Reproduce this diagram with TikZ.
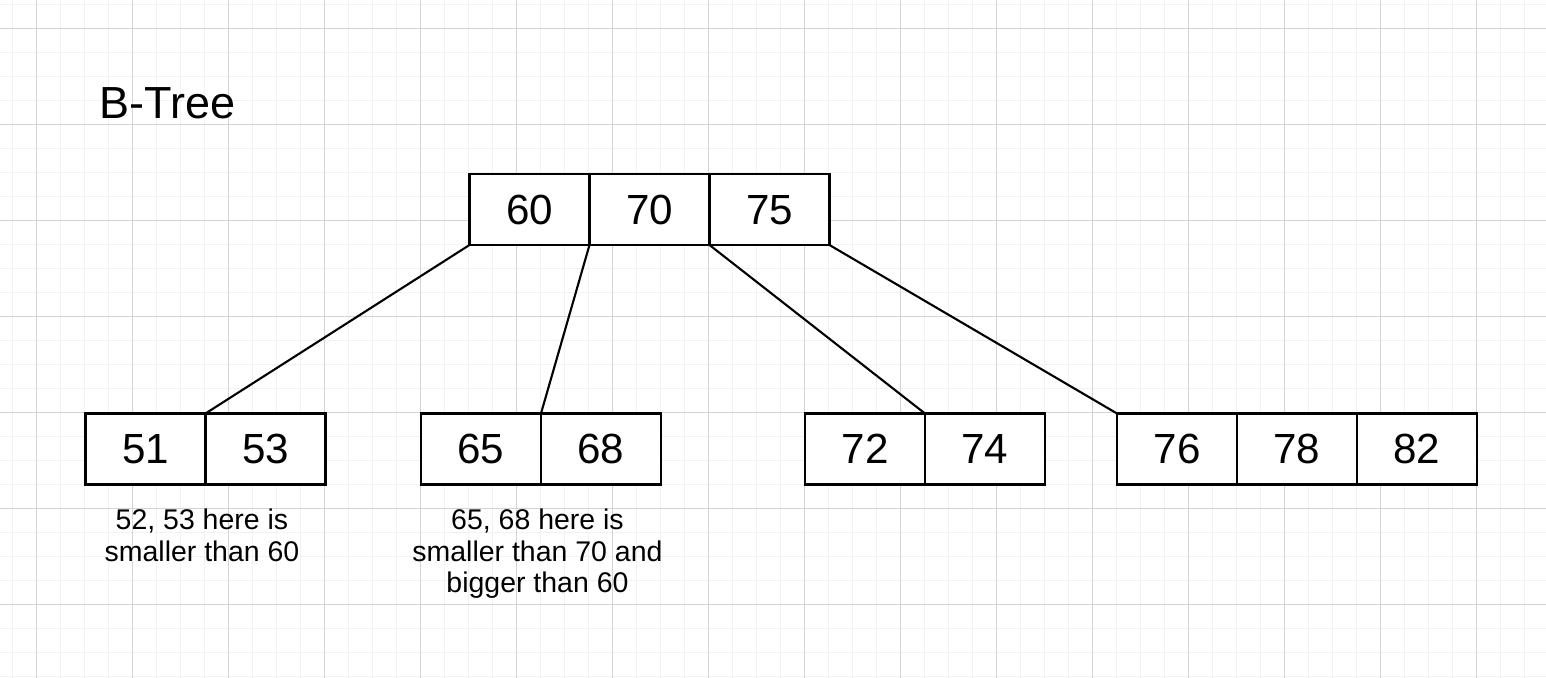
\documentclass[tikz,border=0pt]{standalone}
\usepackage{fontspec}
\setmainfont{Liberation Sans}
\usepackage{tikz}
\usetikzlibrary{positioning}

\definecolor{gridmajor}{RGB}{212,212,212}
\definecolor{gridminor}{RGB}{242,242,242}

\tikzset{
  keycell/.style={draw, rectangle, fill=white, line width=1.3pt, minimum width=2.4cm, minimum height=1.42cm,
    inner sep=0pt, outer sep=0pt, text height=17pt, text depth=0pt, font=\fontsize{24}{28}\selectfont},
  note/.style={align=center, inner sep=0pt, font=\fontsize{16.2}{18}\selectfont},
  link/.style={line width=1.2pt}
}

\begin{document}
\begin{tikzpicture}[x=0.02cm, y=-0.02cm]
      \useasboundingbox (0,0) rectangle (1546,678);
      \fill[white] (0,0) rectangle (1546,678);
      % background grid
      \foreach \x in {12,36,...,1540} \draw[gridminor, line width=0.55pt] (\x,0) -- (\x,678);
      \foreach \y in {4,28,...,676} \draw[gridminor, line width=0.55pt] (0,\y) -- (1546,\y);
      \foreach \x in {36,132,...,1540} \draw[gridmajor, line width=0.55pt] (\x,0) -- (\x,678);
      \foreach \y in {28,124,...,676} \draw[gridmajor, line width=0.55pt] (0,\y) -- (1546,\y);

      \node[anchor=base west, inner sep=0pt, font=\fontsize{25.6}{30}\selectfont] (title) at (99,119) {B-Tree};

      % root
      \node[keycell] (r60) at (529.5,209.5) {60};
      \node[keycell, right=0pt of r60] (r70) {70};
      \node[keycell, right=0pt of r70] (r75) {75};

      % leaves
      \node[keycell] (c51) at (145.5,449) {51};
      \node[keycell, right=0pt of c51] (c53) {53};
      \node[keycell] (c65) at (481,449) {65};
      \node[keycell, right=0pt of c65] (c68) {68};
      \node[keycell] (c72) at (865,449) {72};
      \node[keycell, right=0pt of c72] (c74) {74};
      \node[keycell] (c76) at (1177,449) {76};
      \node[keycell, right=0pt of c76] (c78) {78};
      \node[keycell, right=0pt of c78] (c82) {82};

      \draw[link] (r60.south west) -- (c51.north east);
      \draw[link] (r70.south west) -- (c65.north east);
      \draw[link] (r75.south west) -- (c72.north east);
      \draw[link] (r75.south east) -- (c76.north west);

      \node[note, below=0.48cm of c51.south east, xshift=-2pt] (n51) {52, 53 here is\\smaller than 60};
      \node[note, below=0.48cm of c65.south east, xshift=-2pt] (n65) {65, 68 here is\\smaller than 70 and\\bigger than 60};
\end{tikzpicture}
\end{document}
